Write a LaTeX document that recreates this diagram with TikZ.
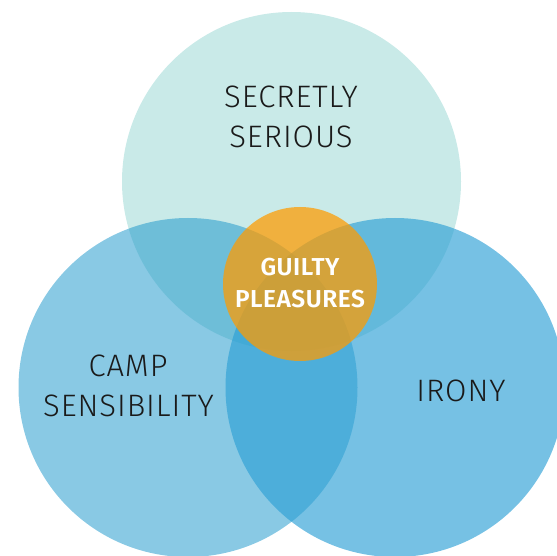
\documentclass[tikz,border=0pt]{standalone}
\usepackage{fontspec}
\setmainfont{Fira Sans Light}[BoldFont=Fira Sans SemiBold]
\definecolor{topc}{RGB}{201,234,232}
\definecolor{leftc}{RGB}{28,151,203}
\definecolor{rightc}{RGB}{45,160,213}
\definecolor{orangec}{RGB}{255,155,0}
\definecolor{txt}{RGB}{26,26,26}
\tikzset{
  vcirc/.style={circle, inner sep=0pt, minimum size=339pt},
  lbl/.style={anchor=base, text=txt, font=\fontsize{31}{31}\selectfont\addfontfeature{LetterSpace=3}},
  glbl/.style={anchor=base, text=white, font=\bfseries\fontsize{24.5}{24.5}\selectfont\addfontfeature{LetterSpace=2}},
}
\begin{document}
\begin{tikzpicture}[x=1pt,y=-1pt]
\useasboundingbox (0,0) rectangle (557,556);
\node[vcirc, fill=topc] (top) at (291.5,181.5) {};
\node[vcirc, fill=leftc, fill opacity=0.52] (left) at (188,387.5) {};
\node[vcirc, fill=rightc, fill opacity=0.65] (right) at (395,387.5) {};
\node[circle, inner sep=0pt, minimum size=154pt, fill=orangec, fill opacity=0.73] (gp) at (300,284) {};
\node[lbl] (s1) at (291,108) {SECRETLY};
\node[lbl] (s2) at (291,147.5) {SERIOUS};
\node[lbl] (c1) at (128,376.5) {CAMP};
\node[lbl] (c2) at (128.5,416) {SENSIBILITY};
\node[lbl] (ir) at (461,401) {IRONY};
\node[glbl] (g1) at (300,276) {GUILTY};
\node[glbl] (g2) at (300,307) {PLEASURES};
\end{tikzpicture}
\end{document}
